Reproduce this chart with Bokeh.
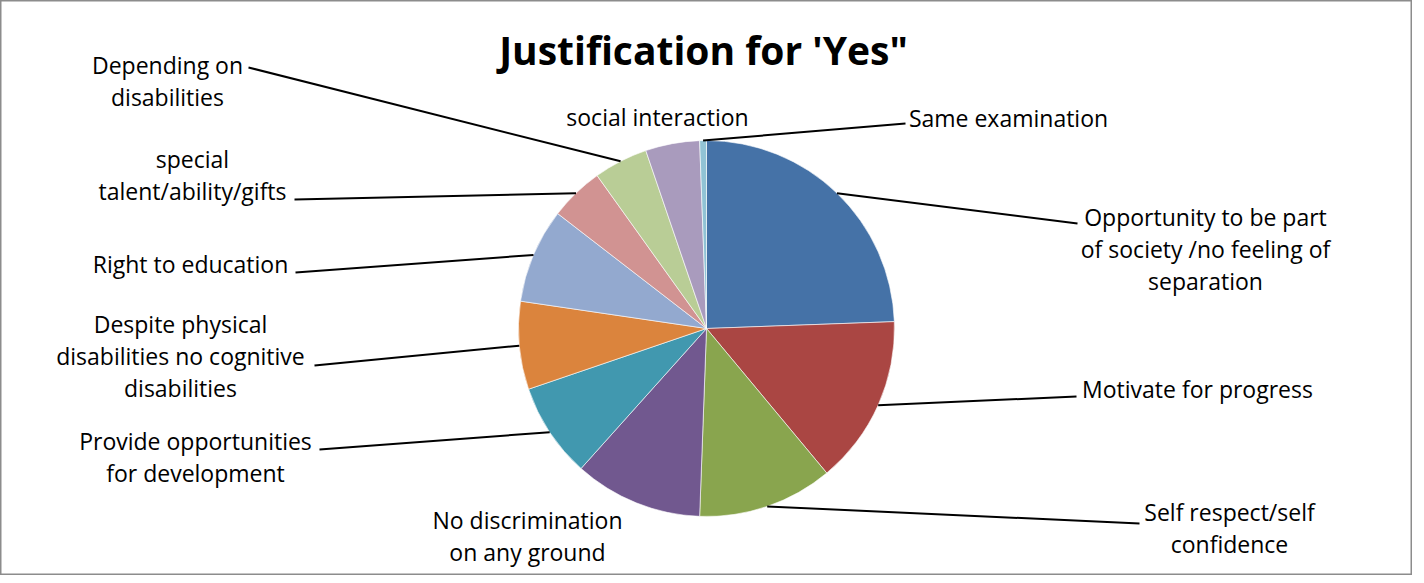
import math
from bokeh.plotting import figure
from bokeh.models import Range1d, ColumnDataSource
from bokeh.core.properties import value
from bokeh.embed import file_html
from bokeh.resources import INLINE

# ---- data ----
categories = [
    "Opportunity to be part of society /no feeling of separation",
    "Motivate for progress",
    "Self respect/self confidence",
    "No discrimination on any ground",
    "Provide opportunities for development",
    "Despite physical disabilities no cognitive disabilities",
    "Right to education",
    "special talent/ability/gifts",
    "Depending on disabilities",
    "social interaction",
    "Same examination",
]
counts = [42, 25, 20, 19, 14, 13, 14, 8, 8, 8, 1]
colors = ["#4572A7", "#AA4643", "#89A54E", "#71588F", "#4198AF", "#DB843D",
          "#93A9CF", "#D19392", "#B9CD96", "#A99BBD", "#91C3D5"]

# label text lines (as displayed)
label_lines = [
    ["Opportunity to be part", "of society /no feeling of", "separation"],
    ["Motivate for progress"],
    ["Self respect/self", "confidence"],
    ["No discrimination", "on any ground"],
    ["Provide opportunities", "for development"],
    ["Despite physical", "disabilities no cognitive", "disabilities"],
    ["Right to education"],
    ["special", "talent/ability/gifts"],
    ["Depending on", "disabilities"],
    ["social interaction"],
    ["Same examination"],
]

# ---- layout (pixel-like coordinates, y up) ----
W, H = 1412, 575
def Y(py):  # image row -> data y
    return 583 - py
def X(px):
    return px - 8

CX, CY, R = X(714), Y(336), 188
# label centre x, first-line y (image), leader end (image) or None
label_pos = [
    (1213, 224, (1085, 231)),
    (1205, 396, (1084, 404)),
    (1237, 519, (1147, 531)),
    (535, 527, None),
    (203, 448, (327, 457)),
    (188, 331, (322, 373)),
    (198, 271, (303, 280)),
    (200, 166, (302, 207)),
    (175, 72, (256, 75)),
    (665, 124, None),
    (1016, 125, (913, 131)),
]
LINE_H = 32

p = figure(width=W, height=H, x_range=Range1d(0, W), y_range=Range1d(0, H),
           output_backend="svg", toolbar_location=None, min_border=0)
p.axis.visible = False
p.grid.visible = False
p.outline_line_color = "#8c8c8c"
p.outline_line_width = 2
p.background_fill_color = "white"
p.border_fill_color = "white"

total = float(sum(counts))
cum = 0.0
starts, ends, mids = [], [], []
for c in counts:
    a0 = cum / total * 360.0
    cum += c
    a1 = cum / total * 360.0
    # clockwise from 12 o'clock -> bokeh ccw from +x
    starts.append(math.radians(90 - a1))
    ends.append(math.radians(90 - a0))
    mids.append((a0 + a1) / 2.0)

src = ColumnDataSource(dict(start=starts, end=ends, color=colors, cat=categories, n=counts))
p.wedge(x=CX, y=CY, radius=R, start_angle="start", end_angle="end",
        fill_color="color", line_color="white", line_width=0.6, source=src)

# leader lines
for m, (lx, ly, lead) in zip(mids, label_pos):
    if lead is None:
        continue
    sx = CX + R * math.sin(math.radians(m))
    sy = CY + R * math.cos(math.radians(m))
    p.line([sx, X(lead[0])], [sy, Y(lead[1])], line_color="black", line_width=2)

# labels
tx, ty, tt = [], [], []
for lines, (lx, ly, lead) in zip(label_lines, label_pos):
    for i, s in enumerate(lines):
        tx.append(X(lx)); ty.append(Y(ly + i * LINE_H)); tt.append(s)
p.text(x=tx, y=ty, text=tt, text_align="center", text_baseline="middle",
       text_font=value("Open Sans"), text_font_size="23px", text_color="black")

p.text(x=[X(711)], y=[Y(57)], text=["Justification for 'Yes\""], text_align="center",
       text_baseline="middle", text_font=value("Open Sans"), text_font_size="39px",
       text_font_style="bold", text_color="black")

open("out.html", "w").write(file_html(p, INLINE))
